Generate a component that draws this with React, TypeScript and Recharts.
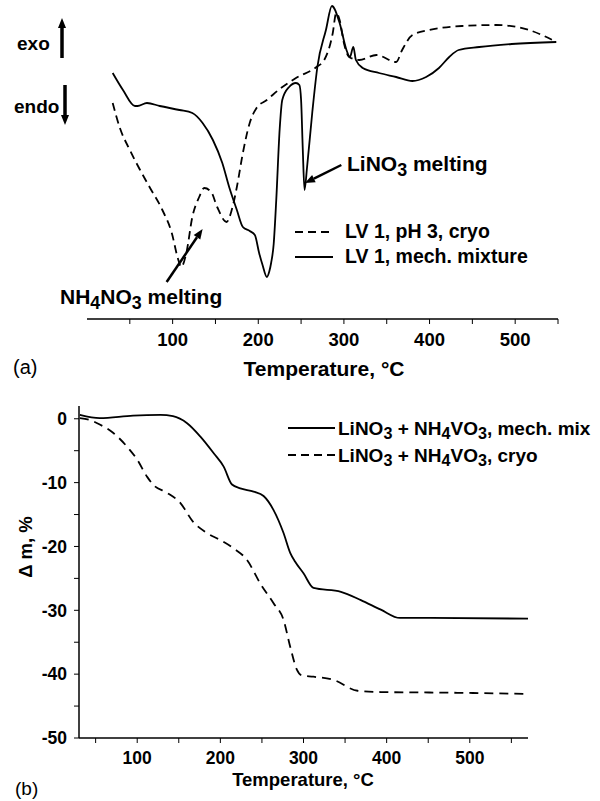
import React from "react";
import { LineChart, Line, XAxis, YAxis, ReferenceLine } from "recharts";

const FONT = "'Liberation Sans', Arial, Helvetica, sans-serif";

// (a) DSC, arbitrary heat-flow units (exo up)
const dscMechT = [30, 42, 56, 59, 70, 85, 108, 123, 135, 147, 158, 166, 175, 182, 190, 196, 201, 205, 210, 213, 215, 218, 221, 225, 228, 236, 244, 248, 250, 252, 254, 257, 263, 269, 279, 286, 295, 303, 307, 311, 314, 322, 341, 361, 380, 396, 411, 423, 434, 458, 496, 548];
const dscMechV = [24.6, 22.9, 21.3, 21.3, 21.6, 21.3, 20.9, 20.6, 19.6, 17.9, 15.6, 13.2, 10.9, 9.2, 8.8, 8.4, 6.6, 5.4, 4.2, 4.8, 5.6, 7.5, 11.9, 19.0, 21.9, 23.2, 23.6, 23.4, 21.9, 16.9, 12.9, 15.2, 20.6, 25.2, 28.9, 31.3, 29.6, 26.9, 26.2, 27.2, 25.9, 25.1, 24.6, 24.2, 23.8, 24.2, 25.1, 26.2, 26.9, 27.2, 27.5, 27.7];
const dscCryoT = [30, 38, 50, 62, 73, 88, 99, 106, 110, 116, 123, 131, 137, 145, 152, 163, 169, 175, 182, 190, 198, 210, 225, 244, 268, 277, 287, 291, 295, 300, 306, 318, 338, 361, 368, 380, 400, 438, 478, 516, 548];
const dscCryoV = [21.6, 19.2, 16.9, 14.9, 13.2, 10.9, 8.6, 6.1, 5.2, 6.6, 10.2, 12.2, 13.1, 12.7, 11.2, 9.7, 10.9, 13.2, 16.6, 19.6, 21.1, 21.9, 23.0, 24.1, 25.2, 25.9, 28.6, 30.6, 29.9, 27.6, 26.2, 25.9, 26.4, 25.7, 26.9, 28.4, 28.9, 29.3, 29.4, 28.9, 27.7];

// (b) TG, mass change %
const tgMechT = [31, 55, 95, 128, 143, 160, 176, 192, 204, 214, 224, 240, 252, 264, 276, 284, 290, 300, 312, 345, 369, 393, 416, 453, 570];
const tgMechV = [0.6, 0.1, 0.5, 0.6, 0.4, -0.7, -2.8, -5.4, -7.5, -10.3, -10.9, -11.4, -12.1, -14.3, -17.9, -21.0, -22.4, -24.2, -26.5, -27.1, -28.4, -29.9, -31.2, -31.2, -31.3];
const tgCryoT = [31, 43, 55, 71, 88, 100, 112, 119, 136, 152, 167, 184, 200, 216, 232, 248, 264, 276, 284, 292, 298, 312, 336, 365, 393, 473, 570];
const tgCryoV = [0.1, -0.2, -0.9, -2.2, -4.4, -6.4, -9.1, -10.3, -11.6, -13.2, -16.1, -17.9, -19.0, -20.3, -22.1, -25.8, -28.9, -31.5, -35.7, -39.3, -40.2, -40.4, -40.9, -42.6, -42.8, -42.9, -43.1];

const xTicksA = [50, 100, 150, 200, 250, 300, 350, 400, 450, 500, 550];
const xTicksB = [50, 100, 150, 200, 250, 300, 350, 400, 450, 500, 550];
const yTicksB = [0, -5, -10, -15, -20, -25, -30, -35, -40, -45, -50];

const zip = (t: number[], v: number[]) => t.map((x, i) => ({ t: x, v: v[i] }));

const tickStyleA = { fill: "#000", fontSize: 18.5, fontWeight: "bold", fontFamily: FONT };
const tickStyleB = { fill: "#000", fontSize: 17.5, fontWeight: "bold", fontFamily: FONT };
const axisLine = { stroke: "#000", strokeWidth: 1.5 };
const tickLine = { stroke: "#000", strokeWidth: 1 };

function ArrowShape(props: any) {
  const { x1, y1, x2, y2 } = props;
  const a = Math.atan2(y2 - y1, x2 - x1);
  const L = 10, W = 4;
  const bx = x2 - L * Math.cos(a);
  const by = y2 - L * Math.sin(a);
  const pts = `${x2},${y2} ${bx - W * Math.sin(a)},${by + W * Math.cos(a)} ${bx + W * Math.sin(a)},${by - W * Math.cos(a)}`;
  return (
    <g>
      <line x1={x1} y1={y1} x2={bx} y2={by} stroke="#000" strokeWidth={2.5} />
      <polygon points={pts} fill="#000" />
    </g>
  );
}

function Txt({ x, y, size, bold = true, center = false, children }: any) {
  return (
    <div
      style={{
        position: "absolute",
        left: x,
        top: y - size * 0.5,
        fontSize: size,
        lineHeight: `${size}px`,
        fontWeight: bold ? "bold" : "normal",
        fontFamily: FONT,
        whiteSpace: "nowrap",
        color: "#000",
        transform: center ? "translateX(-50%)" : undefined,
      }}
    >
      {children}
    </div>
  );
}

const Sub = ({ children }: any) => (
  <span style={{ fontSize: "0.85em", position: "relative", top: "0.3em" }}>{children}</span>
);

function LegendRow({ x1, x2, y, dashed, textX, size, children }: any) {
  return (
    <>
      <svg style={{ position: "absolute", left: x1, top: y - 3 }} width={x2 - x1} height={6}>
        <line x1={0} y1={3} x2={x2 - x1} y2={3} stroke="#000" strokeWidth={1.8} strokeDasharray={dashed ? "8 5" : undefined} />
      </svg>
      <Txt x={textX} y={y} size={size}>{children}</Txt>
    </>
  );
}

export default function App() {
  return (
    <div style={{ position: "absolute", left: 0, top: 0, width: 600, height: 801, background: "#fff", overflow: "hidden" }}>
      {/* (a) DSC */}
      <div style={{ position: "absolute", left: 0, top: 0 }}>
        <LineChart width={600} height={400} margin={{ top: 0, right: 42, bottom: 51, left: 87 }}>
          <XAxis
            type="number"
            dataKey="t"
            domain={[0, 550]}
            ticks={xTicksA}
            interval={0}
            tickFormatter={(v: number) => (v % 100 === 0 ? String(v) : "")}
            tick={tickStyleA}
            tickSize={5}
            tickMargin={9}
            axisLine={axisLine}
            tickLine={tickLine}
            height={30}
          />
          <YAxis type="number" domain={[0, 31.9]} hide />
          <Line data={zip(dscCryoT, dscCryoV)} dataKey="v" type="monotone" stroke="#000" strokeWidth={1.8} strokeDasharray="8 5" dot={false} isAnimationActive={false} />
          <Line data={zip(dscMechT, dscMechV)} dataKey="v" type="monotone" stroke="#000" strokeWidth={1.8} dot={false} isAnimationActive={false} />
          <ReferenceLine segment={[{ x: 297, y: 15.4 }, { x: 254.5, y: 13.6 }]} shape={ArrowShape} ifOverflow="visible" />
          <ReferenceLine segment={[{ x: 93, y: 3.7 }, { x: 135, y: 9.0 }]} shape={ArrowShape} ifOverflow="visible" />
        </LineChart>
      </div>

      <Txt x={17} y={43} size={19}>exo</Txt>
      <Txt x={14} y={106} size={19}>endo</Txt>
      <svg style={{ position: "absolute", left: 54, top: 14 }} width={20} height={116}>
        <line x1={8} y1={44} x2={8} y2={12} stroke="#000" strokeWidth={3.5} />
        <polygon points="8,4 4,14 12,14" fill="#000" />
        <line x1={11} y1={71} x2={11} y2={102} stroke="#000" strokeWidth={3.5} />
        <polygon points="11,111 7,101 15,101" fill="#000" />
      </svg>

      <Txt x={347} y={163} size={21}>LiNO<Sub>3</Sub> melting</Txt>
      <Txt x={60} y={296} size={21}>NH<Sub>4</Sub>NO<Sub>3</Sub> melting</Txt>

      <LegendRow x1={295} x2={333} y={232} dashed textX={345} size={19.5}>LV 1, pH 3, cryo</LegendRow>
      <LegendRow x1={295} x2={333} y={257} textX={345} size={19.5}>LV 1, mech. mixture</LegendRow>

      <Txt x={324} y={368} size={21} center>Temperature, °C</Txt>
      <Txt x={13} y={367} size={20} bold={false}>(a)</Txt>

      {/* (b) TG */}
      <div style={{ position: "absolute", left: 0, top: 380 }}>
        <LineChart width={600} height={420} margin={{ top: 26, right: 72, bottom: 32, left: 19 }}>
          <XAxis
            type="number"
            dataKey="t"
            domain={[30, 570]}
            ticks={xTicksB}
            interval={0}
            tickFormatter={(v: number) => (v % 100 === 0 ? String(v) : "")}
            tick={tickStyleB}
            tickSize={5}
            tickMargin={9}
            axisLine={axisLine}
            tickLine={tickLine}
            height={30}
          />
          <YAxis
            type="number"
            domain={[-50, 2]}
            ticks={yTicksB}
            interval={0}
            tickFormatter={(v: number) => (v % 10 === 0 ? String(v) : "")}
            tick={tickStyleB}
            tickSize={5}
            tickMargin={7}
            axisLine={axisLine}
            tickLine={tickLine}
            width={60}
          />
          <Line data={zip(tgMechT, tgMechV)} dataKey="v" type="monotone" stroke="#000" strokeWidth={1.8} dot={false} isAnimationActive={false} />
          <Line data={zip(tgCryoT, tgCryoV)} dataKey="v" type="monotone" stroke="#000" strokeWidth={1.8} strokeDasharray="9 6" dot={false} isAnimationActive={false} />
        </LineChart>
      </div>

      <LegendRow x1={288} x2={335} y={428} textX={338} size={19}>LiNO<Sub>3</Sub> + NH<Sub>4</Sub>VO<Sub>3</Sub>, mech. mix</LegendRow>
      <LegendRow x1={288} x2={335} y={455} dashed textX={338} size={19}>LiNO<Sub>3</Sub> + NH<Sub>4</Sub>VO<Sub>3</Sub>, cryo</LegendRow>

      <div
        style={{
          position: "absolute",
          left: 25,
          top: 547,
          transform: "translate(-50%, -50%) rotate(-90deg)",
          fontSize: 18.5,
          fontWeight: "bold",
          fontFamily: FONT,
          whiteSpace: "nowrap",
          lineHeight: "19px",
        }}
      >
        Δ m, %
      </div>

      <Txt x={303} y={780} size={18.5} center>Temperature, °C</Txt>
      <Txt x={15} y={788} size={19} bold={false}>(b)</Txt>
    </div>
  );
}
